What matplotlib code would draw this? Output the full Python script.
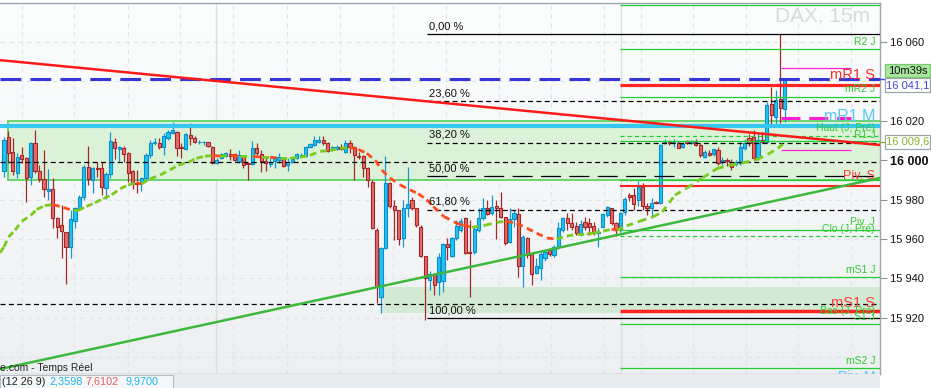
import numpy as np
import matplotlib.pyplot as plt
from matplotlib.patches import Rectangle
from matplotlib.colors import LinearSegmentedColormap

plt.rcParams['font.family'] = ['Liberation Sans', 'DejaVu Sans']

W, H = 931, 388

# DAX 15m candles
opens = [15994.5, 16012, 16004, 15993.5, 16002.5, 16001, 15991.5, 16008.5, 15994.5, 15990.5,
         15984.5, 15985.5, 15970.5, 15967, 15963.5, 15956, 15969, 15975.5, 15981.5, 15996.5,
         15990, 15996, 15996, 15986, 15993, 16009, 16005.5, 16006, 16003.5, 15994.5,
         15988.5, 15988.5, 15991, 16002.5, 16008.5, 16008.5, 16006.5, 16011.5, 16014, 16014.5,
         16006.5, 16005.5, 16013, 16011.5, 16009, 16009, 16009, 16006.5, 15998.5, 16001,
         16002, 16003, 16003, 15999, 16002, 15998.5, 15998, 16006, 16003, 15999.5,
         15998, 15999.5, 16000, 16001, 15997.5, 15999, 16001, 16002, 16002, 16006.5,
         16007.5, 16009, 16010.5, 16008.5, 16005.5, 16005.5, 16006.5, 16004, 16008.5, 16006.5,
         16002, 16002, 15996, 15989, 15964.5, 15930.5, 15955.5, 15988.5, 15977, 15974.5,
         15960.5, 15975.5, 15980, 15976, 15966, 15951.5, 15939, 15942.5, 15938, 15938.5,
         15957.5, 15951.5, 15960.5, 15964.5, 15970.5, 15953.5, 15953.5, 15964.5, 15970.5, 15975.5,
         15973, 15977, 15976, 15971, 15958.5, 15970, 15972.5, 15946.5, 15960.5, 15952.5,
         15943, 15945.5, 15950.5, 15954.5, 15952, 15956, 15964.5, 15970.5, 15968, 15966.5,
         15963, 15968.5, 15968, 15966.5, 15963, 15966, 15972, 15976, 15968, 15965,
         15973.5, 15982.5, 15982.5, 15980, 15986.5, 15977, 15975.5, 15979, 15978.5, 16008.5,
         16009.5, 16008.5, 16008.5, 16006.5, 16010, 16008.5, 16009.5, 16007.5, 16001.5, 16003.5,
         16003, 16005, 15999.5, 16000, 15999, 15998, 15998.5, 16006, 16011.5, 16012,
         16001, 16010.5, 16009, 16028.5, 16022, 16031, 16026]
highs = [16012, 16015, 16011.5, 16003.5, 16006.5, 16001.5, 16009, 16015.5, 15997.5, 16005,
         15995.5, 15991, 15971, 15977.5, 15963.5, 15974.5, 15976.5, 15982.5, 15997.5, 16007,
         15996.5, 15999, 15999, 15994, 16014.5, 16011.5, 16007, 16007, 16004, 15995,
         15995, 15991.5, 16003.5, 16010.5, 16011.5, 16011.5, 16014, 16015.5, 16019.5, 16015,
         16008.5, 16014, 16019, 16012.5, 16010.5, 16010, 16009.5, 16007, 16001, 16003.5,
         16004, 16005.5, 16003.5, 16005, 16002.5, 15998.5, 16010, 16008.5, 16005, 16001.5,
         16001, 16002, 16003.5, 16001.5, 16001, 16001.5, 16003.5, 16003.5, 16007, 16008.5,
         16012.5, 16012.5, 16012.5, 16009.5, 16007, 16007.5, 16008, 16010.5, 16010.5, 16007,
         16004, 16002.5, 15996.5, 15990, 15965.5, 15956, 16002, 15989, 15980, 15974.5,
         15980, 15996.5, 15981.5, 15976, 15967, 15951.5, 15944, 15943, 15953, 15958,
         15960.5, 15961, 15969.5, 15970.5, 15971, 15969.5, 15966, 15976, 15981, 15980,
         15982.5, 15980, 15984, 15971, 15976, 15974.5, 15976, 15962, 15961, 15953,
         15950.5, 15953.5, 15954.5, 15955.5, 15957, 15968.5, 15971, 15973, 15973, 15968.5,
         15969.5, 15971, 15970.5, 15968.5, 15965.5, 15973, 15977, 15976, 15968.5, 15973.5,
         15981.5, 15983.5, 15986, 15989.5, 15988.5, 15978.5, 15981, 15979.5, 16008, 16011,
         16010.5, 16011, 16010, 16009.5, 16010.5, 16010.5, 16011, 16008.5, 16005, 16005,
         16006, 16006.5, 16001.5, 16001, 16000.5, 16000, 16009, 16011, 16013.5, 16015.5,
         16014.5, 16014.5, 16029.5, 16037, 16035.5, 16064, 16041.5]
lows = [15991.5, 15998.5, 15992.5, 15991, 15998.5, 15979, 15987.5, 15993.5, 15989, 15981.5,
        15980, 15965.5, 15960.5, 15950.5, 15937, 15950.5, 15965.5, 15974.5, 15980, 15987.5,
        15983.5, 15991.5, 15982.5, 15980.5, 15991, 16000.5, 15999, 15999, 15989, 15985.5,
        15983.5, 15984.5, 15990, 16001, 16007.5, 16005.5, 16002.5, 16010.5, 16013.5, 16002,
        16001, 16005, 16007.5, 16008.5, 16008, 16007.5, 16006.5, 15998, 15998, 16000.5,
        16001.5, 16000, 15999.5, 15998.5, 15996, 15990, 15997.5, 16002.5, 15994, 15994.5,
        15996.5, 15996, 15998.5, 15996.5, 15994.5, 15998.5, 16000.5, 16001.5, 16001.5, 16006,
        16007, 16008.5, 16007.5, 16004, 16004.5, 16005, 16005, 16003.5, 16003.5, 15990,
        16000.5, 15991.5, 15986.5, 15965, 15927.5, 15922.5, 15955, 15976, 15959.5, 15957,
        15956, 15971, 15974.5, 15966, 15951, 15919, 15934, 15931.5, 15931.5, 15933,
        15949.5, 15951, 15959.5, 15963.5, 15952.5, 15930.5, 15952.5, 15963.5, 15969.5, 15972,
        15972, 15960, 15970.5, 15957, 15958, 15966, 15940.5, 15935.5, 15950.5, 15936.5,
        15942.5, 15939, 15949, 15951.5, 15951, 15955, 15963.5, 15964.5, 15964.5, 15962,
        15961.5, 15964.5, 15962, 15962, 15956, 15966, 15971, 15967, 15961.5, 15963.5,
        15972, 15979.5, 15974.5, 15977, 15974.5, 15972, 15971, 15978, 15978, 16008,
        16007.5, 16006.5, 16006, 16006, 16008, 16008, 16007, 16001.5, 16001, 16002,
        16002, 15997.5, 15997.5, 15997, 15995, 15997, 15997.5, 16005, 16007, 16000,
        16000, 16008.5, 16008.5, 16018, 16018, 16019, 16019.5]
closes = [16010.5, 16003.5, 15994.5, 16001.5, 16000.5, 15991, 16008.5, 15994.5, 15990.5, 15985.5,
          15985.5, 15970.5, 15966, 15964, 15956, 15970, 15975.5, 15981.5, 15996.5, 15990.5,
          15996, 15995.5, 15986.5, 15993, 16010, 16006, 16006.5, 16003, 15993.5, 15988.5,
          15988, 15991, 16002.5, 16008.5, 16009.5, 16006.5, 16012.5, 16014.5, 16015.5, 16006,
          16006, 16013.5, 16011.5, 16009, 16009.5, 16009.5, 16007, 15998.5, 16000, 16003,
          16003.5, 16002, 16000, 16002.5, 15997.5, 15998, 16006, 16003.5, 15999.5, 15998.5,
          15999, 16001.5, 16001.5, 15997, 15999, 16000.5, 16003, 16002.5, 16006.5, 16008,
          16010.5, 16010.5, 16008.5, 16004.5, 16006.5, 16006.5, 16005.5, 16008.5, 16006.5, 16002.5,
          16001.5, 15996, 15990, 15965.5, 15935.5, 15955.5, 15988.5, 15977, 15974.5, 15960,
          15975.5, 15978, 15976, 15967, 15951.5, 15940, 15942.5, 15936.5, 15951, 15957.5,
          15956, 15960.5, 15966.5, 15969, 15953, 15953, 15965, 15970.5, 15976, 15972.5,
          15976.5, 15976, 15971, 15958, 15970, 15973, 15946.5, 15961, 15952, 15942.5,
          15946.5, 15952.5, 15953.5, 15952.5, 15956, 15965.5, 15970.5, 15968, 15966, 15963,
          15967.5, 15966, 15966, 15963, 15963.5, 15972.5, 15976.5, 15968, 15964.5, 15973,
          15980.5, 15981.5, 15978, 15986.5, 15977, 15976, 15978.5, 15978.5, 16007.5, 16009.5,
          16008.5, 16009.5, 16006, 16008, 16008.5, 16010, 16007.5, 16002.5, 16004, 16002.5,
          16005.5, 15998.5, 16000, 15999.5, 15996.5, 15999, 16006.5, 16008.5, 16008.5, 16001,
          16010.5, 16009, 16028, 16023, 16030.5, 16026.5, 16041]

# moving average (candle index, value)
ma_idx = [-0.9, 0, 1, 2.5, 4, 6, 7.4, 9.2, 11.1, 13.4, 15.5, 16.7, 18.6, 20.5, 22.4, 24.3, 26.2, 28,
          29.9, 31, 32.9, 35.2, 37.4, 39.3, 41.6, 43.4, 45.3, 47.2, 48.7, 51.3, 53.2, 56.2, 58.1,
          60, 62.2, 64.5, 66.7, 69, 71.3, 73.5, 75.8, 78, 79.9, 81.8, 83.7, 85.2, 87, 89.3, 91.5,
          93.4, 95.3, 96.8, 99.1, 102.1, 103.6, 105.5, 108.5, 111.1, 113.3, 115.6, 117.9, 120.1,
          122.4, 124.6, 126.9, 129.1, 131.4, 132.9, 135.1, 137, 138.2, 140.4, 143.4, 146.4, 148.4,
          151.3, 154, 157.6, 160.8, 163.7, 166.6, 169.8, 172.3, 174.5, 175.6]
ma_val = [15953, 15956, 15961, 15964.5, 15969, 15972, 15975, 15977, 15977.5, 15976, 15974.5, 15974.5,
          15976.5, 15978.5, 15980.5, 15982.5, 15985.5, 15987.5, 15988.5, 15988, 15990.5, 15992.5,
          15995, 15997.5, 15999, 16001, 16002, 16002.5, 16002, 16002.5, 16002, 16002, 16001.5,
          16001.5, 16001, 16001, 16001.5, 16002.5, 16004.5, 16005, 16006, 16006.5, 16005.5,
          16003.5, 16000, 15995, 15991, 15987.5, 15985, 15983, 15980, 15976.5, 15971.5, 15968,
          15967, 15966, 15967, 15968.5, 15969, 15968, 15965.5, 15963, 15960.5, 15960, 15961.5,
          15962.5, 15962.5, 15963, 15964, 15965, 15964.5, 15966.7, 15969.1, 15971.3, 15973.7,
          15982.3, 15985.9, 15991.2, 15995.8, 15997.5, 15998.7, 16000.4, 16003.1, 16006, 16008.2]

# retracement between high and low
fib_high = 16063.9
fib_low = 15919.7
fib_pct = [0.0, 0.236, 0.382, 0.5, 0.618, 1.0]
fib_text = ["0,00 %", "23,60 %", "38,20 %", "50,00 %", "61,80 %", "100,00 %"]

# daily / monthly pivot levels (green, from the day break)
green_vals = [16078.6, 16056.3, 16032.2, 16009.6, 15989.8, 15964.4, 15940.5, 15916.7, 15894.5]
green_dashed_vals = [16012.3, 15961.5]
red_names = ["mR1 S", "Piv. S", "mS1 S"]
red_vals = [16038.2, 15987.0, 15923.3]
red_widths = [2.3, 1.5, 2.5]

labels = [("R2 J", 16060.0, "#33cc33", 7.5), ("mR1 S", 16043.2, "#ff2a2a", 10.5),
          ("mR2 J", 16036.0, "#33cc33", 7.5), ("mR1 M", 16022.4, "#55c8f5", 11.5),
          ("Haut (J, Pré)", 16016.2, "#33cc33", 7.5), ("R1 J", 16012.9, "#33cc33", 7.5),
          ("Piv. S", 15992.0, "#ff3a3a", 9), ("Piv. J", 15968.4, "#33cc33", 7.5),
          ("Clo (J, Pré)", 15965.0, "#33cc33", 7.5), ("mS1 J", 15944.2, "#33cc33", 7.5),
          ("mS1 S", 15927.3, "#ff3a3a", 10.5), ("Bas (J, Pré)", 15923.4, "#33cc33", 7.5),
          ("S1 J", 15920.2, "#33cc33", 7.5), ("mS2 J", 15898.0, "#33cc33", 7.5),
          ("Piv. M", 15889.8, "#55c8f5", 10)]

range_box = (15989.8, 16019.7)
low_band = (15922.4, 15935.6)
cyan_level = 16017.3
blue_level = 16041.2
black_dashed = [15998.9, 15926.8]
magenta_thin = [16046.6, 16005.2]
magenta_thick = 16021.6
red_trend = [16050.8, 16007.7]
green_trend = [15894.0, 15991.0]

yticks = [15920, 15940, 15960, 15980, 16000, 16020, 16060]
last_price = "16 041,1"
r1_price = "16 009,6"
timer = "10m39s"
indicator_vals = ["2,3598", "7,6102", "9,9700"]

# pixel layout helpers
X0_PX, DX_PX = 4.0, 4.435
def px2i(px):
    return (px - X0_PX) / DX_PX

xmin, xmax = px2i(0), px2i(880)
ymin, ymax = 15891.5, 16079.8
DAY = px2i(620)
FIB_X = px2i(427)

fig = plt.figure(figsize=(W / 100, H / 100), dpi=100)
fig.patch.set_facecolor("white")
ax = fig.add_axes([0, 14 / H, 880 / W, 371 / H])

grad = np.linspace(0, 1, 256).reshape(-1, 1)
bg = LinearSegmentedColormap.from_list("bg", ["#fcfdfd", "#edf0f2"])
ax.imshow(grad, extent=(xmin, xmax, ymin, ymax), aspect="auto", cmap=bg, zorder=0)

# grid
for v in range(15900, 16080, 20):
    ax.axhline(v, color="#e0e4e7", lw=0.8, dashes=(4, 4), zorder=1)
for px in [21.7, 74.3, 127.7, 180.3, 233.3, 286.7, 340, 392.7, 445.7, 499, 551.3, 604,
           640.7, 693.3, 746, 798.3, 851]:
    ax.axvline(px2i(px), color="#e0e4e7", lw=0.8, dashes=(4, 4), zorder=1)
for px in [216, 621]:
    ax.axvline(px2i(px), color="#dadee1", lw=1, zorder=1)

# zones
ax.add_patch(Rectangle((px2i(8), range_box[0]), xmax - px2i(8) + 2, range_box[1] - range_box[0],
                       facecolor="#dcf2d8", edgecolor="#62d262", lw=1.3, zorder=1.5))
ax.add_patch(Rectangle((px2i(383), low_band[0]), xmax - px2i(383) + 2, low_band[1] - low_band[0],
                       facecolor="#d3e9d3", edgecolor="none", zorder=1.5))

# candles
idx = np.arange(len(opens))
o, h, l, c = (np.array(a, dtype=float) for a in (opens, highs, lows, closes))
up = c >= o
for mask, fill, edge, wick in [(up, "#1fc4f1", "#0b8ecb", "#1596d4"),
                               (~up, "#e46a6a", "#a42626", "#a32a2a")]:
    ax.vlines(idx[mask], l[mask], h[mask], color=wick, lw=0.9, zorder=3)
    body = np.maximum(np.abs(c - o)[mask], 0.45)
    ax.bar(idx[mask], body, bottom=np.minimum(o, c)[mask], width=0.72, color=fill,
           edgecolor=edge, linewidth=0.8, zorder=3.5)

# horizontal levels
SHORT = (0, (4, 2.7))
ax.hlines(black_dashed, xmin, xmax, color="black", lw=0.9, linestyles=SHORT, zorder=4)
ax.hlines(green_vals, DAY, xmax, color="#22cc33", lw=0.9, zorder=4)
ax.hlines(green_dashed_vals, DAY, xmax, color="#22cc33", lw=0.9, linestyles=(0, (3.2, 2.6)), zorder=4)
for v, w in zip(red_vals, red_widths):
    ax.hlines(v, DAY, xmax, color="#ff2424", lw=w, zorder=4.2)
ax.hlines(cyan_level, xmin, xmax, color="#35c6f2", lw=3, zorder=4.3)
ax.hlines(blue_level, xmin, xmax, color="#3535d8", lw=2.2, linestyles=(0, (6.8, 3.0)), zorder=4.3)
ax.hlines(magenta_thin, px2i(781), px2i(851), color="#ff1fcf", lw=0.9, zorder=4.3)
ax.hlines(magenta_thick, px2i(781), px2i(851), color="#ff1fcf", lw=2.2,
          linestyles=(0, (6.2, 2.9)), zorder=4.3)

for p, t in zip(fib_pct, fib_text):
    v = fib_high - p * (fib_high - fib_low)
    if p in (0.0, 1.0):
        ls = "solid"
    elif p == 0.5:
        ls = (0, (16, 6.7))
    else:
        ls = SHORT
    ax.hlines(v, FIB_X, xmax, color="black", lw=0.9, linestyles=ls, zorder=4.1)
    ax.text(px2i(429), v + 4.2, t, fontsize=8, color="#111111", va="center", ha="left", zorder=6)

# trend lines
ax.plot([xmin, xmax], red_trend, color="#ff1a1a", lw=1.8, zorder=4.5)
ax.plot([xmin, xmax], green_trend, color="#3cb83c", lw=1.8, zorder=4.5)

# moving average, green rising / red falling
for k in range(len(ma_idx) - 1):
    col = "#7acb1c" if ma_val[k + 1] >= ma_val[k] else "#ff4a1e"
    ax.plot(ma_idx[k:k + 2], ma_val[k:k + 2], color=col, lw=2, dashes=(2.4, 1.8), zorder=5)

# level names on the right
for t, v, col, fs in labels:
    ax.text(px2i(875), v, t, fontsize=fs, color=col, ha="right", va="center", zorder=6, clip_on=True)

ax.text(870 / 880, 1 - 13 / 371, "DAX, 15m", transform=ax.transAxes, fontsize=15,
        color="#d8dbde", ha="right", va="center", zorder=1.2)
ax.text(0, (374 - 368) / 371, "e.com - Temps Réel", transform=ax.transAxes, fontsize=7.5,
        color="#222222", ha="left", va="center", zorder=6)

ax.set_xlim(xmin, xmax)
ax.set_ylim(ymin, ymax)
ax.set_xticks([])
ax.yaxis.tick_right()
ax.set_yticks(yticks)
ax.set_yticklabels([f"{v:,}".replace(",", " ") for v in yticks])
ax.tick_params(axis="y", length=5, width=0.8, color="#8a949c", labelsize=8, pad=2, labelcolor="#111111")
for lab in ax.get_yticklabels():
    if lab.get_text() == "16 000":
        lab.set_fontweight("bold")
        lab.set_fontsize(9)
ax.spines["left"].set_visible(False)
for side in ("right", "top", "bottom"):
    ax.spines[side].set_color("#9aa5ae")
    ax.spines[side].set_linewidth(1)

# status strip under the chart
def fx(px):
    return px / W
def fy(py):
    return 1 - py / H

fig.patches.append(Rectangle((0, 0), fx(880), fy(374), transform=fig.transFigure,
                             facecolor="#e9ecee", edgecolor="none", zorder=0))
fig.patches.append(Rectangle((0, 0), fx(173), fy(375), transform=fig.transFigure,
                             facecolor="#f5f7f8", edgecolor="#b5bdc4", lw=0.8, zorder=1))
fig.text(fx(2), fy(382), "(12 26 9)", fontsize=7.8, color="#222222", va="center")
for t, x, col in zip(indicator_vals, [49, 85, 125], ["#20b4e8", "#e06060", "#20b4e8"]):
    fig.text(fx(x), fy(382), t, fontsize=7.8, color=col, va="center")

# price tags on the axis
tags = [(timer, 64, 77, "#a9e6a0", "#78c86c", "#111111"),
        (last_price, 78, 92, "white", "#9da4aa", "#4646dc"),
        (r1_price, 135, 149, "white", "#9da4aa", "#8ab22a")]
for t, y0, y1, fc, ec, tc in tags:
    fig.patches.append(Rectangle((fx(885), fy(y1)), fx(930) - fx(885), fy(y0) - fy(y1),
                                 transform=fig.transFigure, facecolor=fc, edgecolor=ec, lw=0.9, zorder=3))
    fig.text(fx(907.5), fy((y0 + y1) / 2), t, fontsize=8, color=tc, ha="center", va="center", zorder=4)
fig.lines.append(plt.Line2D([fx(880), fx(885)], [fy(79), fy(79)], transform=fig.transFigure,
                            color="#4646dc", lw=1))
fig.lines.append(plt.Line2D([fx(880), fx(885)], [fy(142), fy(142)], transform=fig.transFigure,
                            color="#8ab22a", lw=1))

fig.savefig("out.png", dpi=100)
